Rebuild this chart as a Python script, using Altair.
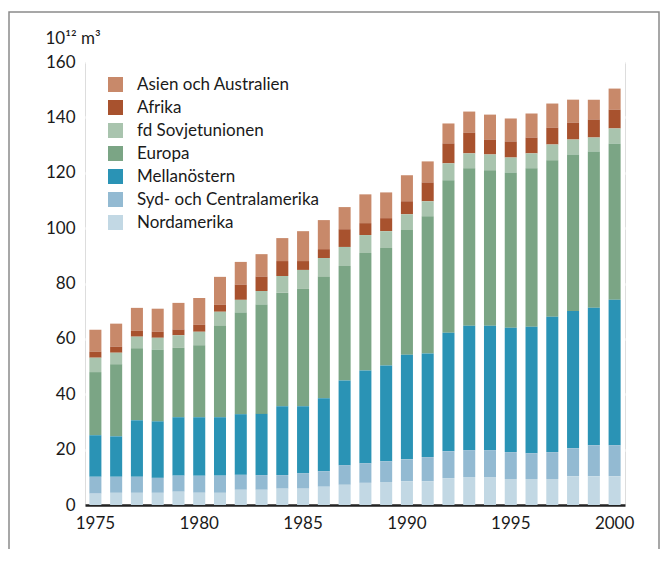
import altair as alt
import pandas as pd

years = list(range(1975, 2001))

regions = ["Asien och Australien", "Afrika", "fd Sovjetunionen", "Europa",
           "Mellanöstern", "Syd- och Centralamerika", "Nordamerika"]
colors = ["#C8896A", "#A8522E", "#A9C4AE", "#7BA585", "#2A93B5", "#93BAD2", "#C2D8E4"]

nordamerika = [4.1, 4.4, 4.4, 4.4, 4.8, 4.4, 4.4, 5.5, 5.5, 5.9, 5.9, 6.6, 7.3, 8.0, 8.3, 8.6,
               8.6, 9.7, 10.1, 10.1, 9.4, 9.4, 9.4, 10.4, 10.4, 10.4]
syd_central = [6.1, 5.8, 5.8, 5.4, 5.8, 6.2, 6.2, 5.4, 5.3, 4.9, 5.6, 5.6, 7.1, 7.1, 7.5, 7.9,
               8.7, 9.7, 9.7, 9.7, 9.7, 9.3, 9.7, 10.1, 11.2, 11.2]
mellanostern = [15.0, 14.6, 20.4, 20.4, 21.1, 21.1, 21.1, 21.9, 22.1, 24.9, 24.2, 26.4, 30.6, 33.5,
                34.6, 37.8, 37.4, 42.8, 44.9, 44.9, 44.9, 45.7, 48.9, 49.6, 49.6, 52.5]
europa = [22.8, 26.0, 26.0, 26.0, 25.1, 26.0, 33.0, 36.7, 39.5, 41.0, 42.4, 43.8, 41.3, 42.4, 42.4,
          45.0, 49.6, 55.1, 56.9, 56.2, 56.1, 57.2, 56.5, 56.5, 56.5, 56.5]
sovjet = [5.2, 4.2, 4.2, 4.2, 4.5, 4.9, 5.1, 4.6, 4.9, 6.0, 6.8, 6.8, 6.9, 6.5, 6.1, 5.7, 5.4, 6.1,
          5.4, 5.7, 5.4, 5.4, 5.7, 5.4, 5.0, 5.4]
afrika = [2.2, 2.2, 2.1, 2.2, 2.1, 2.5, 2.5, 5.5, 5.2, 5.4, 3.2, 3.2, 6.4, 4.3, 4.7, 4.7, 6.8, 7.2,
          7.5, 5.4, 5.8, 5.7, 6.1, 6.1, 6.5, 6.8]
asien = [7.9, 8.3, 8.3, 8.3, 9.6, 9.7, 10.1, 8.2, 8.1, 8.3, 10.8, 10.5, 8.0, 10.4, 9.3, 9.4, 7.6,
         7.2, 7.6, 9.0, 8.3, 8.7, 8.7, 8.3, 7.2, 7.6]

series = [asien, afrika, sovjet, europa, mellanostern, syd_central, nordamerika]
y_ticks = [0, 20, 40, 60, 80, 100, 120, 140, 160]
x_labels = [1975, 1980, 1985, 1990, 1995, 2000]

rows = []
for ri, (name, vals) in enumerate(zip(regions, series)):
    for yr, v in zip(years, vals):
        rows.append({"year": yr, "region": name, "value": v, "stackorder": len(regions) - ri})
df = pd.DataFrame(rows)

FONT = "Lato"

bars = alt.Chart(df).mark_bar(strokeWidth=0).encode(
    x=alt.X("year:O", title=None,
            scale=alt.Scale(paddingInner=0.42, paddingOuter=0.21),
            axis=alt.Axis(values=x_labels, labelAngle=0, ticks=False, domain=True,
                          domainColor="#222222", domainWidth=2.5, labelPadding=10,
                          labelFontSize=17, labelFont=FONT, labelColor="#1a1a1a", grid=False)),
    y=alt.Y("value:Q", stack="zero",
            scale=alt.Scale(domain=[0, 160], nice=False),
            axis=alt.Axis(values=y_ticks, ticks=False, domain=False, grid=True,
                          gridColor="#ffffff", gridWidth=2.5, labelPadding=10,
                          labelFontSize=17, labelFont=FONT, labelColor="#1a1a1a",
                          title="10¹² m³", titleAngle=0, titleAlign="left",
                          titleBaseline="alphabetic", titleX=-40, titleY=-19,
                          titleFont=FONT, titleFontSize=17, titleFontWeight="normal",
                          titleColor="#1a1a1a")),
    color=alt.Color("region:N", title=None,
                    scale=alt.Scale(domain=regions, range=colors),
                    legend=alt.Legend(orient="none", legendX=22, legendY=14, padding=0,
                                      symbolType="square", symbolSize=225, symbolStrokeWidth=0,
                                      labelFontSize=17, labelFont=FONT, labelColor="#1a1a1a",
                                      labelOffset=13, rowPadding=5, labelLimit=400)),
    order=alt.Order("stackorder:Q", sort="ascending"),
)

frame = alt.Chart(pd.DataFrame({"a": [0]})).mark_rect(
    fillOpacity=0, stroke="#8a8a8a", strokeWidth=1.5
).encode(
    x=alt.value(-76), x2=alt.value(574), y=alt.value(-50), y2=alt.value(520)
)

chart = alt.layer(frame, bars).properties(
    width=540, height=443,
    autosize=alt.AutoSizeParams(type="none"),
    padding={"left": 77, "top": 54, "right": 35, "bottom": 44},
).configure_view(fill="#F1E5D0", stroke=None).configure(background="#ffffff")

chart.save("out.html", embed_options={"renderer": "svg", "actions": False})
